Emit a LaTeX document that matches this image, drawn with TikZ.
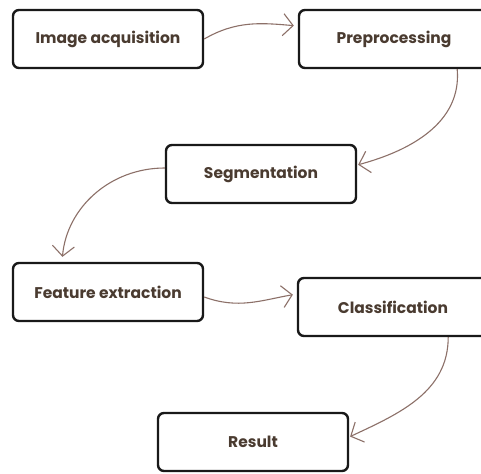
\documentclass[tikz,border=0pt]{standalone}
\usepackage{fontspec}
\setmainfont{Poppins}
\usepackage{xcolor}
\usepackage{tikz}
\usetikzlibrary{arrows.meta}

\definecolor{inkbrown}{HTML}{4A3B30}
\definecolor{linkbrown}{HTML}{8C7068}

\begin{document}
\begin{tikzpicture}[x=1pt,y=-1pt]
				\clip (0,0) rectangle (481,473);
				\fill[white] (0,0) rectangle (481,473);
				\begin{scope}[every node/.style={rectangle,rounded corners=6pt,line width=2.4pt,draw=black!90,fill=white,
						minimum width=190pt,minimum height=58pt,text=inkbrown,font=\bfseries\fontsize{15.5}{18}\selectfont}]
					\node (A) at (108,39) {Image acquisition};
					\node (B) at (394,39) {Preprocessing};
					\node (C) at (261,174) {Segmentation};
					\node (D) at (108,292) {Feature extraction};
					\node (E) at (393,307) {Classification};
					\node (F) at (253,442) {Result};
				\end{scope}
				
				\begin{scope}[>={Straight Barb[length=10pt,width=22pt,line width=1.1pt]},
					every edge/.style={draw=linkbrown,line width=1.1pt}]
					\path [->,shorten >=4pt] (A.east) edge [out=30,in=175] ([yshift=13pt]B.west);
					\path [->,shorten >=1pt] ([xshift=-33pt]B.south east) edge [out=-85,in=15] ([yshift=9pt]C.east);
					\path [->,shorten >=5pt] ([yshift=6pt]C.west) edge [out=180,in=85] ([xshift=-46pt]D.north);
					\path [->,shorten >=4pt] ([yshift=-5pt]D.east) edge [out=-20,in=190] ([yshift=13pt]E.west);
					\path [->,shorten >=1pt] ([xshift=-41pt]E.south east) edge [out=-90,in=25] ([yshift=5pt]F.east);
				\end{scope}
			\end{tikzpicture}
\end{document}
